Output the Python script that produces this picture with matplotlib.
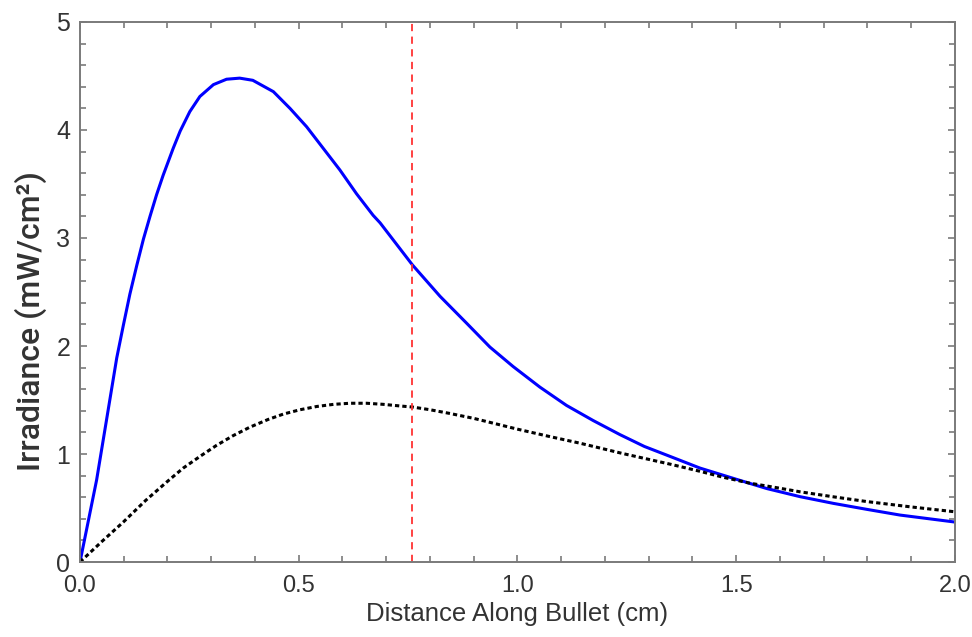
import matplotlib.pyplot as plt
from matplotlib.ticker import MultipleLocator, FixedLocator

# 蓝色实线 (辐照度)
blue_x = [0.0, 0.02, 0.038, 0.06, 0.084, 0.099, 0.114, 0.130, 0.145, 0.160, 0.175,
          0.190, 0.213, 0.229, 0.251, 0.274, 0.305, 0.335, 0.365, 0.395, 0.442,
          0.480, 0.518, 0.556, 0.594, 0.632, 0.670, 0.686, 0.760, 0.823, 0.884,
          0.937, 0.990, 1.051, 1.112, 1.173, 1.234, 1.290, 1.341, 1.417, 1.493,
          1.570, 1.646, 1.722, 1.798, 1.874, 2.0]
blue_y = [0.0, 0.40, 0.76, 1.30, 1.89, 2.19, 2.48, 2.75, 2.99, 3.20, 3.40,
          3.58, 3.83, 3.99, 4.17, 4.31, 4.42, 4.47, 4.48, 4.46, 4.355,
          4.20, 4.03, 3.83, 3.63, 3.41, 3.21, 3.14, 2.75, 2.46, 2.21,
          1.99, 1.81, 1.62, 1.45, 1.31, 1.18, 1.07, 0.99, 0.87, 0.775,
          0.68, 0.605, 0.543, 0.488, 0.435, 0.37]

# 黑色点线
black_x = [0.0, 0.05, 0.099, 0.15, 0.198, 0.236, 0.275, 0.312, 0.35, 0.389, 0.43,
           0.465, 0.503, 0.541, 0.58, 0.617, 0.655, 0.693, 0.731, 0.76, 0.8,
           0.846, 0.9, 0.96, 1.0, 1.07, 1.143, 1.189, 1.24, 1.295, 1.35,
           1.417, 1.47, 1.531, 1.59, 1.646, 1.72, 1.798, 1.9, 2.0]
black_y = [0.0, 0.19, 0.37, 0.57, 0.74, 0.87, 0.98, 1.08, 1.17, 1.25, 1.32,
           1.37, 1.41, 1.44, 1.46, 1.47, 1.47, 1.46, 1.445, 1.435, 1.41,
           1.375, 1.33, 1.27, 1.23, 1.165, 1.10, 1.055, 1.005, 0.955, 0.905,
           0.84, 0.785, 0.73, 0.69, 0.65, 0.605, 0.56, 0.51, 0.465]

marker_x = 0.76

xticks = [0.0, 0.5, 1.0, 1.5, 2.0]
xticklabels = ['0.0', '0.5', '1.0', '1.5', '2.0']
yticks = [0, 1, 2, 3, 4, 5]

fig = plt.figure(figsize=(9.72, 6.37), dpi=100)
ax = fig.add_axes([0.0823, 0.1177, 0.9002, 0.8478])

ax.plot(blue_x, blue_y, color='#0000ff', lw=2.2, solid_joinstyle='round')
ax.plot(black_x, black_y, color='black', lw=2.2, linestyle=(0, (1.4, 1.0)))
ax.axvline(marker_x, color='#ff3333', lw=1.3, linestyle=(0, (4, 3)))

ax.set_xlim(0, 2)
ax.set_ylim(0, 5)

ax.xaxis.set_major_locator(FixedLocator(xticks))
ax.set_xticklabels(xticklabels)
ax.xaxis.set_minor_locator(MultipleLocator(0.1))
ax.yaxis.set_major_locator(FixedLocator(yticks))
ax.yaxis.set_minor_locator(MultipleLocator(0.2))

tick_color = '#333333'
for s in ax.spines.values():
    s.set_color('#7a7a7a')
    s.set_linewidth(1.4)

ax.tick_params(which='both', direction='in', top=True, right=True,
               color='#7a7a7a', width=1.2)
ax.tick_params(which='major', length=5)
ax.tick_params(which='minor', length=4)
ax.tick_params(axis='x', which='major', labelsize=17, labelcolor=tick_color, pad=9)
ax.tick_params(axis='y', which='major', labelsize=18, labelcolor=tick_color, pad=7)
for lab in ax.get_xticklabels() + ax.get_yticklabels():
    lab.set_family(['Liberation Sans', 'DejaVu Sans'])

ax.set_xlabel('Distance Along Bullet (cm)', fontsize=18.5, color=tick_color,
              family=['Liberation Sans', 'DejaVu Sans'], labelpad=4)
ax.set_ylabel('Irradiance (mW/cm²)', fontsize=23, color=tick_color,
              family=['Roboto', 'DejaVu Sans'], fontweight='medium')
ax.yaxis.set_label_coords(-0.038, 0.446)

plt.savefig('out.png', dpi=100)
